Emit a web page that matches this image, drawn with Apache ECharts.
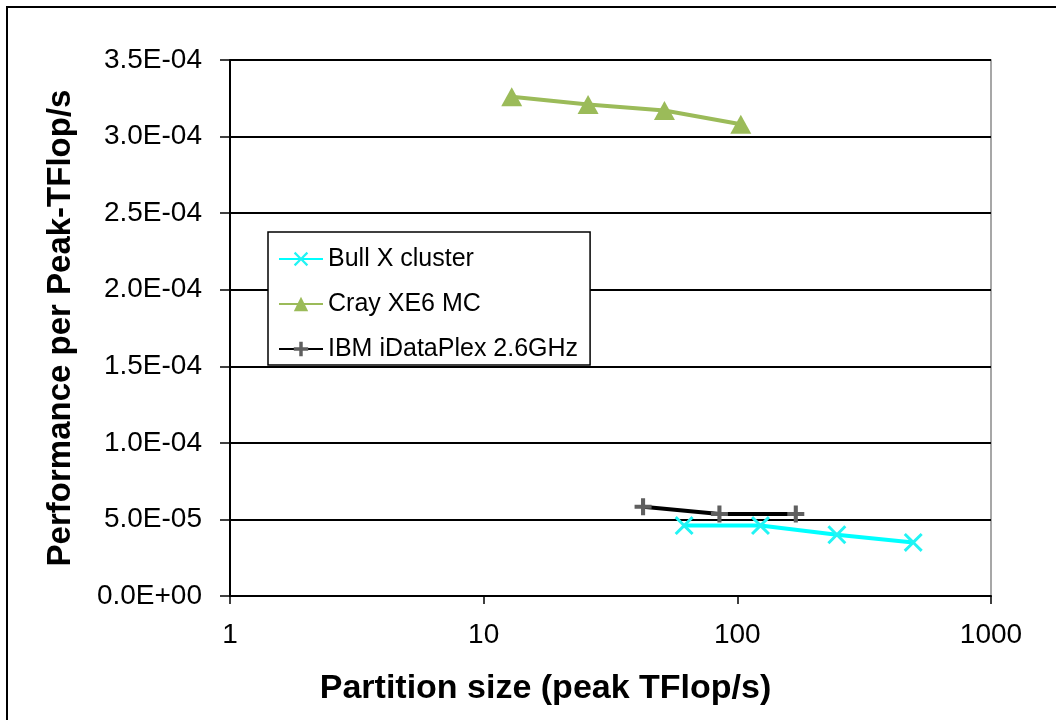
<!DOCTYPE html>
<html>
<head>
<meta charset="utf-8">
<script src="https://cdn.jsdelivr.net/npm/echarts@6/dist/echarts.min.js"></script>
<style>
html,body{margin:0;padding:0;background:#fff;}
#chart{width:1056px;height:720px;}
</style>
</head>
<body>
<div id="chart"></div>
<script>
// Data
const seriesNames = ['Bull X cluster', 'Cray XE6 MC', 'IBM iDataPlex 2.6GHz'];
const bullX = [61.7, 123.4, 246.8, 493.6];
const bullY = [4.6e-5, 4.6e-5, 4.0e-5, 3.5e-5];
const crayX = [12.9, 25.8, 51.6, 103.2];
const crayY = [3.26e-4, 3.21e-4, 3.17e-4, 3.08e-4];
const ibmX = [42.5, 85.0, 170.0];
const ibmY = [5.83e-5, 5.36e-5, 5.36e-5];
const xTicks = [1, 10, 100, 1000];
const yMin = 0, yMax = 3.5e-4, yStep = 5e-5;
const xTitle = 'Partition size (peak TFlop/s)';
const yTitle = 'Performance per Peak-TFlop/s';

function pairs(xs, ys) { return xs.map((x, i) => [x, ys[i]]); }
function sci(v) {
  if (Math.abs(v) < 1e-12) return '0.0E+00';
  let e = Math.floor(Math.log10(Math.abs(v)) + 1e-9);
  let ms = (v / Math.pow(10, e)).toFixed(1);
  if (ms === '10.0') { e += 1; ms = (v / Math.pow(10, e)).toFixed(1); }
  return ms + 'E' + (e < 0 ? '-' : '+') + String(Math.abs(e)).padStart(2, '0');
}

const FONT = "'Liberation Sans', Arial, sans-serif";
const crossPath = 'path://M0,1.1 L1.1,0 L5,3.9 L8.9,0 L10,1.1 L6.1,5 L10,8.9 L8.9,10 L5,6.1 L1.1,10 L0,8.9 L3.9,5 Z';
const plusPath = 'path://M3.8,0 H6.2 V3.8 H10 V6.2 H6.2 V10 H3.8 V6.2 H0 V3.8 H3.8 Z';

const chart = echarts.init(document.getElementById('chart'), null, {renderer: 'canvas'});
chart.setOption({
  animation: false,
  backgroundColor: '#fff',
  textStyle: {fontFamily: FONT},
  graphic: [{
    type: 'rect', silent: true, z: 0,
    shape: {x: 7, y: 7, width: 1100, height: 800},
    style: {fill: 'none', stroke: '#000', lineWidth: 2}
  }],
  grid: {
    left: 230, right: 65, top: 60, bottom: 124,
    containLabel: false, outerBoundsMode: 'none',
    show: true, borderColor: '#8a8a8a', borderWidth: 1.5, backgroundColor: 'transparent'
  },
  legend: {
    orient: 'vertical', left: 268, top: 232,
    padding: [12, 12, 1, 10],
    backgroundColor: '#fff',
    borderColor: '#000', borderWidth: 1.5,
    itemWidth: 44, itemHeight: 18, itemGap: 15,
    textStyle: {fontFamily: FONT, fontSize: 25, color: '#000', lineHeight: 30},
    data: seriesNames
  },
  xAxis: {
    type: 'log', logBase: 10, min: xTicks[0], max: xTicks[xTicks.length - 1],
    name: xTitle, nameLocation: 'middle', nameGap: 76,
    nameTextStyle: {fontFamily: FONT, fontSize: 34, fontWeight: 'bold', color: '#000', padding: [0, 130, 0, 0]},
    axisLine: {show: true, lineStyle: {color: '#000', width: 2}},
    axisTick: {show: true, inside: false, length: 8, lineStyle: {color: '#000', width: 1.5}},
    minorTick: {show: false},
    splitLine: {show: false},
    axisLabel: {fontFamily: FONT, fontSize: 28, color: '#000', margin: 25, formatter: v => String(Math.round(v))}
  },
  yAxis: {
    type: 'value', min: yMin, max: yMax, interval: yStep,
    name: yTitle, nameLocation: 'middle', nameGap: 153,
    nameTextStyle: {fontFamily: FONT, fontSize: 33, fontWeight: 'bold', color: '#000'},
    axisLine: {show: true, lineStyle: {color: '#000', width: 2}},
    axisTick: {show: true, inside: false, length: 10, lineStyle: {color: '#000', width: 1.5}},
    splitLine: {show: true, lineStyle: {color: '#000', width: 2}},
    axisLabel: {fontFamily: FONT, fontSize: 28, color: '#000', margin: 28, formatter: sci}
  },
  series: [
    {
      name: seriesNames[0], type: 'line', data: pairs(bullX, bullY),
      symbol: crossPath, symbolSize: 19,
      itemStyle: {color: '#22f4f4'},
      lineStyle: {color: '#00ffff', width: 4},
      z: 3
    },
    {
      name: seriesNames[1], type: 'line', data: pairs(crayX, crayY),
      symbol: 'triangle', symbolSize: [21, 19],
      itemStyle: {color: '#9bbb59'},
      lineStyle: {color: '#9bbb59', width: 4},
      z: 3
    },
    {
      name: seriesNames[2], type: 'line', data: pairs(ibmX, ibmY),
      symbol: plusPath, symbolSize: 17,
      itemStyle: {color: '#5f5f5f'},
      lineStyle: {color: '#000', width: 4},
      z: 4
    }
  ]
});
</script>
</body>
</html>
